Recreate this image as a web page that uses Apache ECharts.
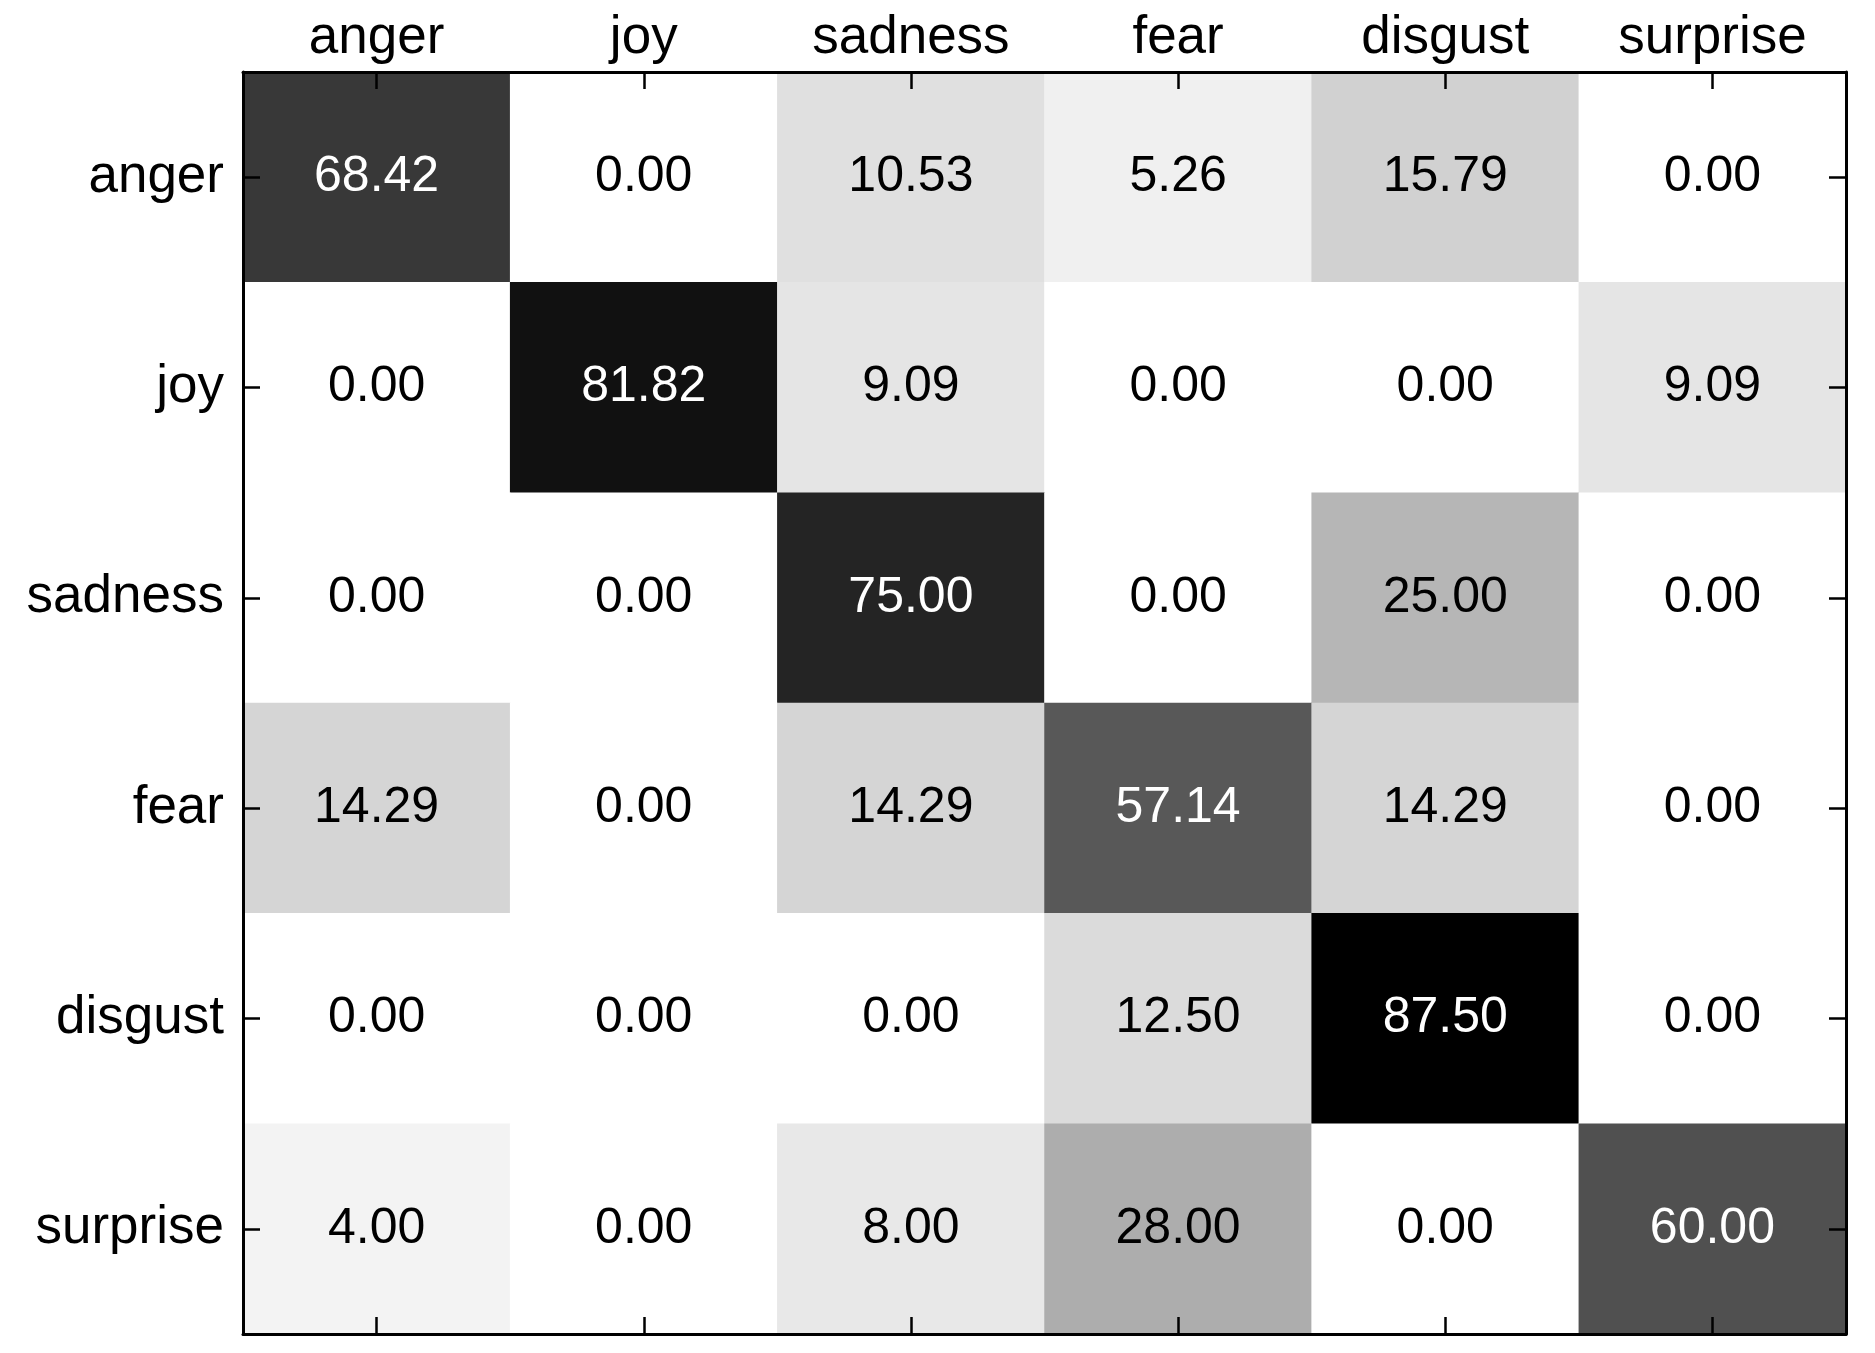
<!DOCTYPE html>
<html>

<head>
  <meta charset="UTF-8">
  <title>Confusion matrix</title>
  <script src="https://cdn.jsdelivr.net/npm/echarts@6/dist/echarts.min.js"></script>
  <style>
    html, body { margin: 0; padding: 0; background: #fff; }
  </style>
</head>

<body>
  <div id="main" style="width: 1875px;height:1353px;"></div>
  <script type="text/javascript">
    // categories (columns = predicted, rows = actual)
    var colNames = ['anger', 'joy', 'sadness', 'fear', 'disgust', 'surprise'];
    var rowNames = ['anger', 'joy', 'sadness', 'fear', 'disgust', 'surprise'];

    // percentages per row
    var rowAnger = [68.42, 0.00, 10.53, 5.26, 15.79, 0.00];
    var rowJoy = [0.00, 81.82, 9.09, 0.00, 0.00, 9.09];
    var rowSadness = [0.00, 0.00, 75.00, 0.00, 25.00, 0.00];
    var rowFear = [14.29, 0.00, 14.29, 57.14, 14.29, 0.00];
    var rowDisgust = [0.00, 0.00, 0.00, 12.50, 87.50, 0.00];
    var rowSurprise = [4.00, 0.00, 8.00, 28.00, 0.00, 60.00];

    var rows = [rowAnger, rowJoy, rowSadness, rowFear, rowDisgust, rowSurprise];

    var maxVal = 0;
    rows.forEach(function (r) {
      r.forEach(function (v) { if (v > maxVal) maxVal = v; });
    });

    // heatmap items [col, row, value]; dark cells get white text
    var cells = [];
    rows.forEach(function (r, i) {
      r.forEach(function (v, j) {
        cells.push({
          value: [j, i, v],
          label: { color: v > maxVal / 2 ? '#ffffff' : '#000000' }
        });
      });
    });

    var font = '"Liberation Sans", Arial, sans-serif';
    var lineStyle = { color: '#000', width: 3 };
    var tickStyle = { show: true, inside: true, length: 17, alignWithLabel: true, lineStyle: { color: '#000', width: 2.5 } };

    var myChart = echarts.init(document.getElementById('main'));

    var option = {
      backgroundColor: '#fff',
      animation: false,
      grid: { left: 243, right: 29, top: 72, bottom: 19 },
      xAxis: [{
        type: 'category',
        position: 'top',
        z: 10,
        data: colNames,
        axisLine: { show: true, lineStyle: lineStyle },
        axisTick: tickStyle,
        axisLabel: { color: '#000', fontSize: 53, fontFamily: font, margin: 7 },
        splitLine: { show: false }
      }, {
        type: 'category',
        position: 'bottom',
        z: 10,
        data: colNames,
        axisLine: { show: true, lineStyle: lineStyle },
        axisTick: tickStyle,
        axisLabel: { show: false }
      }],
      yAxis: [{
        type: 'category',
        position: 'left',
        z: 10,
        inverse: true,
        data: rowNames,
        axisLine: { show: true, lineStyle: lineStyle },
        axisTick: tickStyle,
        axisLabel: { color: '#000', fontSize: 53, fontFamily: font, margin: 19 },
        splitLine: { show: false }
      }, {
        type: 'category',
        position: 'right',
        z: 10,
        inverse: true,
        data: rowNames,
        axisLine: { show: true, lineStyle: lineStyle },
        axisTick: tickStyle,
        axisLabel: { show: false }
      }],
      visualMap: {
        show: false,
        min: 0,
        max: maxVal,
        inRange: { color: ['#ffffff', '#000000'] }
      },
      series: [{
        type: 'heatmap',
        xAxisIndex: 0,
        yAxisIndex: 0,
        data: cells,
        label: {
          show: true,
          fontSize: 50,
          fontFamily: font,
          formatter: function (p) { return p.value[2].toFixed(2); }
        },
        emphasis: { disabled: true }
      }]
    };

    myChart.setOption(option);
  </script>
</body>

</html>
